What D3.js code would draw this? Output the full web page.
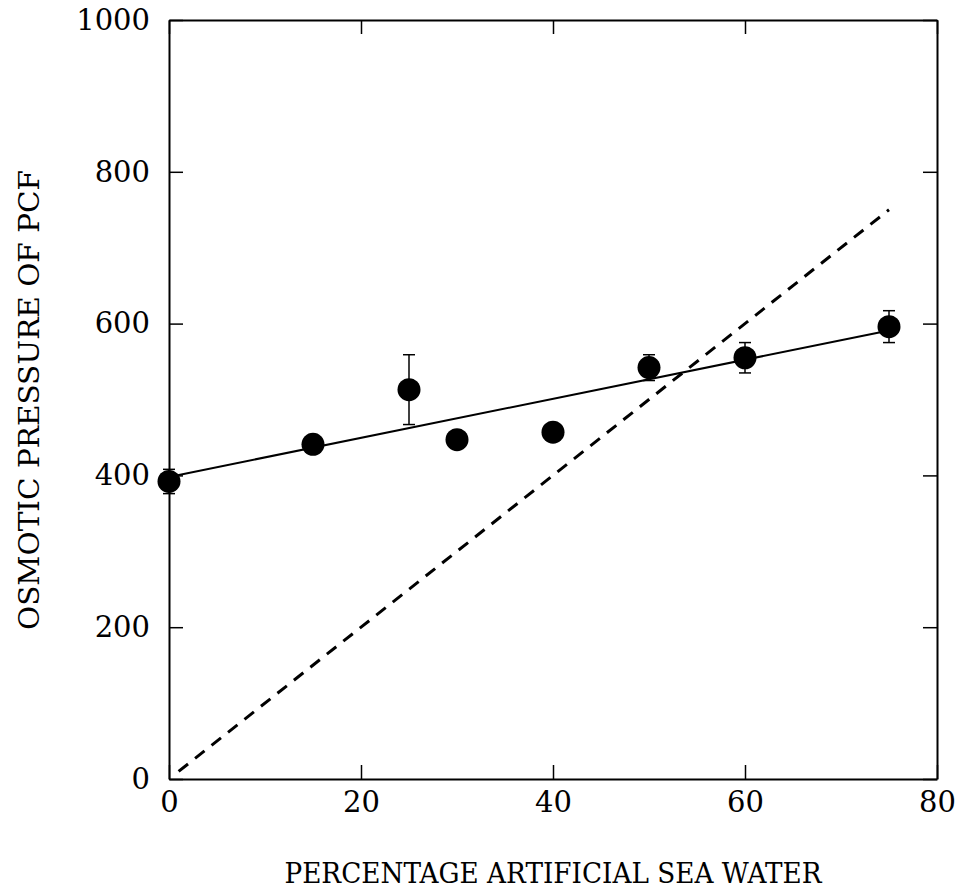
<!DOCTYPE html>
<html>
<head>
<meta charset="utf-8">
<script src="https://cdn.jsdelivr.net/npm/d3@7"></script>
<style>
  body { margin: 0; background: #fff; }
  text { font-family: "DejaVu Serif", "Liberation Serif", serif; fill: #000; }
</style>
</head>
<body>
<div id="chart"></div>
<script>
// Data
const seaWater = [0, 15, 25, 30, 40, 50, 60, 75];
const osmotic = [392, 441, 513, 447, 457, 542, 555, 596];
const osmoticErr = [16, 0, 46, 0, 0, 17, 20, 21];

// Fitted regression line
const fitX = [0, 75];
const fitY = [398, 591];

// Isosmotic line (dashed)
const isoX = [1, 75];
const isoY = [10, 750];

const xTicks = [0, 20, 40, 60, 80];
const yTicks = [0, 200, 400, 600, 800, 1000];

const xTitle = "PERCENTAGE ARTIFICIAL SEA WATER";
const yTitle = "OSMOTIC PRESSURE OF PCF";

document.addEventListener('DOMContentLoaded', () => {
    const margin = { top: 20, right: 26, bottom: 109, left: 169 },
        width = 963 - margin.left - margin.right,
        height = 888 - margin.top - margin.bottom;

    const svg = d3.select("#chart")
        .append("svg")
        .attr("width", 963)
        .attr("height", 888)
        .append("g")
        .attr("transform", `translate(${margin.left},${margin.top})`);

    const x = d3.scaleLinear().domain([0, 80]).range([0, width]);
    const y = d3.scaleLinear().domain([0, 1000]).range([height, 0]);

    const tickLen = 14;

    // Axes on all four sides, ticks pointing inward
    const styleAxis = g => {
        g.select(".domain").attr("stroke-width", 2);
        g.selectAll(".tick line").attr("stroke-width", 1.5);
        g.selectAll("text").style("font-size", "29px").style("font-family", '"DejaVu Serif", serif');
    };

    svg.append("g")
        .attr("transform", `translate(0,${height})`)
        .call(d3.axisBottom(x).tickValues(xTicks).tickSizeInner(-tickLen).tickSizeOuter(0).tickPadding(12).tickFormat(d3.format("d")))
        .call(styleAxis);

    svg.append("g")
        .call(d3.axisLeft(y).tickValues(yTicks).tickSizeInner(-tickLen).tickSizeOuter(0).tickPadding(19).tickFormat(d3.format("d")))
        .call(styleAxis);

    svg.append("g")
        .call(d3.axisTop(x).tickValues(xTicks).tickSizeInner(-tickLen).tickSizeOuter(0).tickFormat(""))
        .call(styleAxis);

    svg.append("g")
        .attr("transform", `translate(${width},0)`)
        .call(d3.axisRight(y).tickValues(yTicks).tickSizeInner(-tickLen).tickSizeOuter(0).tickFormat(""))
        .call(styleAxis);

    // Axis titles
    svg.append("text")
        .attr("x", 384)
        .attr("y", height + 104)
        .attr("text-anchor", "middle")
        .attr("textLength", 537)
        .attr("lengthAdjust", "spacingAndGlyphs")
        .style("font-size", "27px")
        .text(xTitle);

    svg.append("text")
        .attr("transform", `translate(${-130},${380}) rotate(-90)`)
        .attr("text-anchor", "middle")
        .attr("textLength", 460)
        .attr("lengthAdjust", "spacingAndGlyphs")
        .style("font-size", "27px")
        .text(yTitle);

    const line = d3.line().x(d => x(d[0])).y(d => y(d[1]));

    // Isosmotic dashed line
    svg.append("path")
        .datum(d3.zip(isoX, isoY))
        .attr("d", line)
        .attr("fill", "none")
        .attr("stroke", "#000")
        .attr("stroke-width", 3)
        .attr("stroke-dasharray", "12,9");

    // Regression line
    svg.append("path")
        .datum(d3.zip(fitX, fitY))
        .attr("d", line)
        .attr("fill", "none")
        .attr("stroke", "#000")
        .attr("stroke-width", 2);

    const data = seaWater.map((d, i) => ({ x: d, y: osmotic[i], e: osmoticErr[i] }));

    // Error bars
    const bars = svg.selectAll(".err")
        .data(data.filter(d => d.e > 0))
        .join("g")
        .attr("class", "err")
        .attr("stroke", "#000")
        .attr("stroke-width", 1.5);
    bars.append("line")
        .attr("x1", d => x(d.x)).attr("x2", d => x(d.x))
        .attr("y1", d => y(d.y + d.e)).attr("y2", d => y(d.y - d.e));
    bars.append("line")
        .attr("x1", d => x(d.x) - 6).attr("x2", d => x(d.x) + 6)
        .attr("y1", d => y(d.y + d.e)).attr("y2", d => y(d.y + d.e));
    bars.append("line")
        .attr("x1", d => x(d.x) - 6).attr("x2", d => x(d.x) + 6)
        .attr("y1", d => y(d.y - d.e)).attr("y2", d => y(d.y - d.e));

    // Points
    svg.selectAll(".pt")
        .data(data)
        .join("circle")
        .attr("class", "pt")
        .attr("cx", d => x(d.x))
        .attr("cy", d => y(d.y))
        .attr("r", 11.5)
        .attr("fill", "#000");
});
</script>
</body>
</html>
